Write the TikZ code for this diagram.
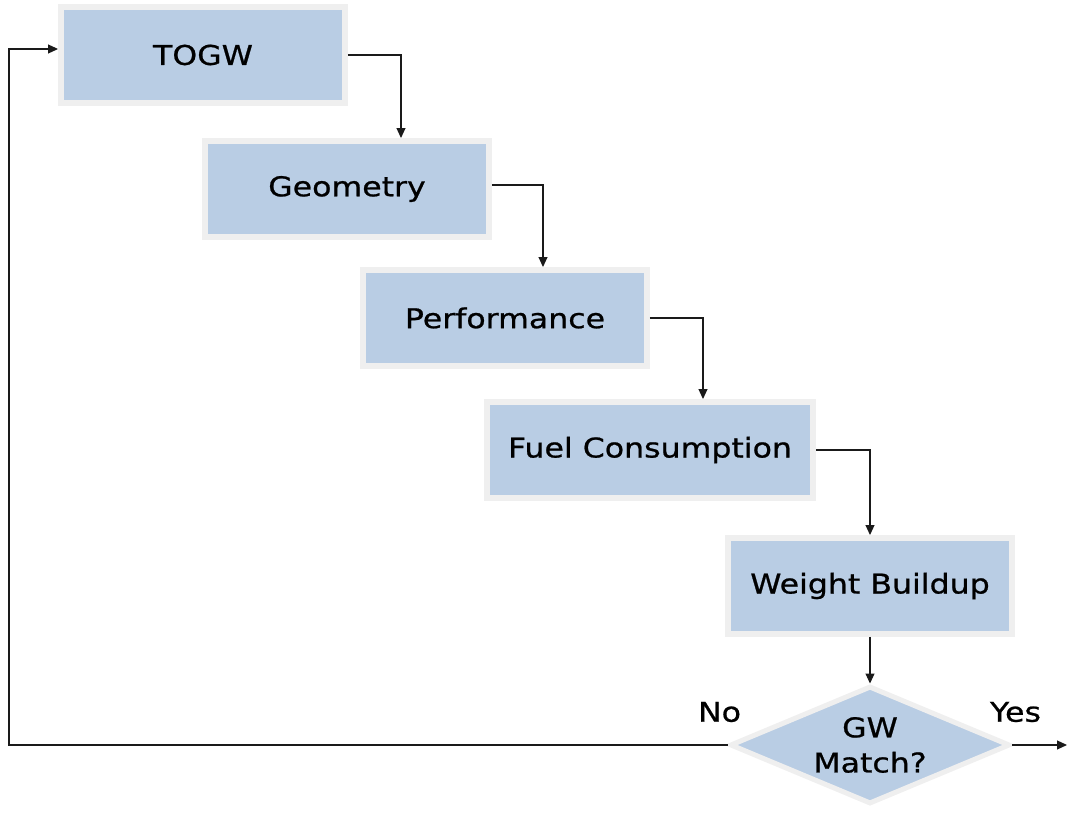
\documentclass[tikz,border=0pt]{standalone}
\usepackage{fontspec}
\setmainfont{DejaVu Sans}[FakeStretch=1.16, FakeBold=0.8]
\usetikzlibrary{arrows.meta,calc,positioning,shapes.geometric}
\definecolor{StepBlue}{HTML}{B9CDE4}
\definecolor{StepEdge}{HTML}{EFEFEF}
\definecolor{FlowInk}{HTML}{1A1A1A}

\begin{document}
\begin{tikzpicture}[x=0.02cm, y=-0.02cm,
    every node/.style={font=\fontsize{15.5}{21}\selectfont},
    stepbox/.style={draw=StepEdge, fill=StepBlue, line width=0.12cm, minimum width=5.68cm, minimum height=1.92cm, align=center},
    decision/.style={diamond, draw=StepEdge, fill=StepBlue, line width=0.1cm, aspect=2.37, inner sep=0pt, minimum width=5.6cm, minimum height=2.36cm, align=center},
    flow/.style={-{Triangle[length=0.2cm, width=0.18cm]}, line width=0.6pt, FlowInk}]
    \useasboundingbox (0,0) rectangle (1069,813);

    \node[stepbox] (togw) at (203,55) {TOGW};
    \node[stepbox] (geometry) at (347,189) {Geometry};
    \node[stepbox] (performance) at (505,318) {Performance};
    \node[stepbox, minimum width=6.54cm] (fuel) at (650,450) {Fuel Consumption};
    \node[stepbox] (weight) at (870,586) {Weight Buildup};
    \node[decision] (match) at (870,745) {GW\\[-1pt]Match?};

    \node (no) at ($(match.west)+(-8,-33)$) {No};
    \node (yes) at ($(match.east)+(3,-33)$) {Yes};

    \coordinate (back) at (9,0);
    \coordinate (done) at (1067,745);

    \draw[flow] (togw.east) -| ([xshift=1.08cm]geometry.north);
    \draw[flow] ([yshift=0.08cm]geometry.east) -| ([xshift=0.76cm]performance.north);
    \draw[flow] (performance.east) -| ([xshift=1.06cm]fuel.north);
    \draw[flow] (fuel.east) -| (weight.north);
    \draw[flow] (weight.south) -- (match.north);
    \draw[flow] (match.west) -- (match.west -| back) |- ([yshift=0.12cm]togw.west);
    \draw[flow] (match.east) -- (done);
  \end{tikzpicture}
\end{document}
